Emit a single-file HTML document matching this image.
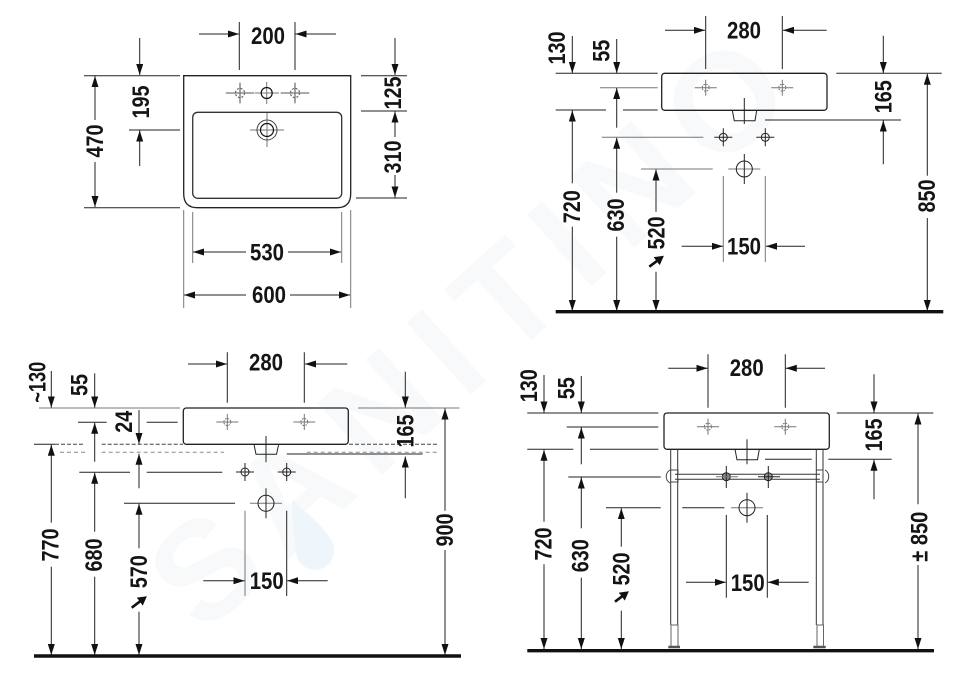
<!DOCTYPE html>
<html><head><meta charset="utf-8"><style>
html,body{margin:0;padding:0;background:#fff;width:960px;height:675px;overflow:hidden}
svg{display:block}
.l,.a,.g{fill:none;stroke:#222;stroke-width:1}
.g{stroke:#777}
.a{marker-end:url(#h)}
.t{font:bold 24px "Liberation Sans",sans-serif;fill:#151515;text-anchor:middle}
.f{fill:none;stroke:#111;stroke-width:3.4}
.s{fill:none;stroke:#111;stroke-width:2.6;marker-end:url(#sm)}
</style></head><body>
<svg width="960" height="675" viewBox="0 0 960 675" xmlns="http://www.w3.org/2000/svg">
<defs>
<marker id="h" markerUnits="userSpaceOnUse" markerWidth="12" markerHeight="8" refX="11" refY="3.5" orient="auto"><path d="M0 0L11 3.5L0 7z" fill="#111"/></marker>
<marker id="sm" markerUnits="userSpaceOnUse" markerWidth="12" markerHeight="11" refX="6" refY="5" orient="auto"><path d="M0 0L9 5L0 10z" fill="#111"/></marker>
<g id="bf"><path class="g" d="M-11 0H11M0 -8V8"/><circle r="3.5" fill="none" stroke="#666" stroke-width=".9" stroke-dasharray="1.6 1.2"/></g>
<g id="hole"><path class="l" d="M-9 0H9M0 -9V9"/><circle r="4" fill="none" stroke="#222"/></g>
<g id="big"><path class="g" d="M-16 0H16"/><path class="l" d="M0 -15V15"/><circle r="8" fill="none" stroke="#222"/></g>
</defs>

<!-- watermark -->
<text transform="translate(470 335) rotate(-42)" text-anchor="middle" y="45" font-family="Liberation Sans,sans-serif" font-weight="bold" font-size="140" textLength="800" lengthAdjust="spacing" fill="#f8f9fa">SANITINO</text>
<path d="M292 500Q335 535 334 550A19 19 0 0 1 296 552Q292 530 292 500z" fill="#eef6fb"/>

<!-- PANEL 1 -->
<path d="M183.7 75.7H350.7V193.7Q350.7 207.7 336.7 207.7H197.7Q183.7 207.7 183.7 193.7Z" fill="none" stroke="#222" stroke-width="1.3"/>
<rect x="192.7" y="112.3" width="149" height="86" rx="5" fill="none" stroke="#333" stroke-width="1.3"/>
<use href="#bf" transform="translate(240 93) scale(1.3)"/>
<use href="#bf" transform="translate(295 93) scale(1.3)"/>
<path class="g" d="M255 93H279M266.7 82V104"/><circle cx="266.7" cy="93" r="5.5" fill="none" stroke="#111" stroke-width="1.2"/>
<path class="g" d="M250 130H284M267 113V147"/><circle cx="267" cy="130" r="10" fill="none" stroke="#444"/><circle cx="267" cy="130" r="6.5" fill="none" stroke="#111" stroke-width="1.2"/>
<path class="l" d="M84 75.7H180M361 75.7H407M129 130H180M84 207.7H180M361 111H407M356 198H407"/>
<path class="l" d="M239.3 22V70M295 22V70"/>
<path class="a" d="M199 34H239"/><path class="a" d="M336 34H295.5"/>
<path class="a" d="M139.7 38V75"/><path class="a" d="M139.7 166V130.5"/>
<path class="a" d="M95 120V76"/><path class="a" d="M95 162V207"/>
<path class="a" d="M395 38V75"/><path class="a" d="M395 137V111.5"/><path class="a" d="M395 175V197.5"/>
<path class="g" d="M192.7 212V263M341.7 212V263M183.7 210V308M350.7 210V308"/>
<path class="a" d="M246 252H193"/><path class="a" d="M288 252H341"/>
<path class="a" d="M246 295H184"/><path class="a" d="M290 295H350"/>
<text class="t" x="268" y="44" textLength="34" lengthAdjust="spacingAndGlyphs">200</text>
<text class="t" x="267" y="260.5" textLength="34" lengthAdjust="spacingAndGlyphs">530</text>
<text class="t" x="269" y="303" textLength="34" lengthAdjust="spacingAndGlyphs">600</text>
<text class="t" transform="translate(141 102) rotate(-90)" y="8" textLength="33" lengthAdjust="spacingAndGlyphs">195</text>
<text class="t" transform="translate(95 141) rotate(-90)" y="8" textLength="33" lengthAdjust="spacingAndGlyphs">470</text>
<text class="t" transform="translate(393 93) rotate(-90)" y="8" textLength="33" lengthAdjust="spacingAndGlyphs">125</text>
<text class="t" transform="translate(393 157) rotate(-90)" y="8" textLength="33" lengthAdjust="spacingAndGlyphs">310</text>

<!-- PANEL 2 -->
<rect x="661.7" y="73.3" width="165.3" height="37" rx="3" fill="none" stroke="#222" stroke-width="1.3"/>
<path class="l" d="M732.3 110.3L734.3 120.7H755L756.7 110.3M744.3 98V124"/>
<use href="#bf" x="705.7" y="87.7"/><use href="#bf" x="782.3" y="87.7"/>
<use href="#hole" x="723.3" y="137.3"/><use href="#hole" x="765.3" y="137.3"/><use href="#big" x="744.3" y="169"/>
<path class="l" d="M705.7 16V69M782.3 16V69M555.7 73.3H657.7M836.3 73.3H941.7M765 120H901"/>
<path class="g" d="M600 87.7H657.7M601.7 137.3H703.3M641 169H712.7"/>
<path class="l" d="M555.7 110H606M623 110H657.7"/>
<path class="g" d="M723.3 176V262M765.3 176V262"/>
<path class="a" d="M665 30.3H705"/><path class="a" d="M826.7 30.3H783"/>
<path class="a" d="M681.7 246.3H723"/><path class="a" d="M805 246.3H766"/>
<path class="a" d="M572.3 36V73"/><path class="a" d="M616.7 39V73"/><path class="a" d="M883.3 35.7V73"/><path class="a" d="M883.3 164.3V120.5"/>
<path class="a" d="M616.7 127.7V88"/><path class="a" d="M616.7 192.7V137.8"/><path class="a" d="M616.7 236.7V311"/>
<path class="a" d="M572.3 183.3V110.5"/><path class="a" d="M572.3 226.7V311"/>
<path class="a" d="M656 211.7V169.5"/><path class="a" d="M656 271.7V311"/>
<path class="a" d="M927.3 175.7V73.8"/><path class="a" d="M927.3 218V311"/>
<path class="s" d="M649.3 266.7L661.5 257.6"/>
<path class="f" d="M555.7 311.7H943.3"/>
<text class="t" x="744" y="38.5" textLength="34" lengthAdjust="spacingAndGlyphs">280</text>
<text class="t" x="744" y="254.5" textLength="34" lengthAdjust="spacingAndGlyphs">150</text>
<text class="t" transform="translate(557 48) rotate(-90)" y="8" textLength="33" lengthAdjust="spacingAndGlyphs">130</text>
<text class="t" transform="translate(601.7 50.7) rotate(-90)" y="8" textLength="22" lengthAdjust="spacingAndGlyphs">55</text>
<text class="t" transform="translate(883.3 96.7) rotate(-90)" y="8" textLength="33" lengthAdjust="spacingAndGlyphs">165</text>
<text class="t" transform="translate(572 206.7) rotate(-90)" y="8" textLength="33" lengthAdjust="spacingAndGlyphs">720</text>
<text class="t" transform="translate(616 215) rotate(-90)" y="8" textLength="33" lengthAdjust="spacingAndGlyphs">630</text>
<text class="t" transform="translate(656.7 233) rotate(-90)" y="8" textLength="33" lengthAdjust="spacingAndGlyphs">520</text>
<text class="t" transform="translate(927 196) rotate(-90)" y="8" textLength="33" lengthAdjust="spacingAndGlyphs">850</text>

<!-- PANEL 3 -->
<rect x="183.3" y="408" width="165" height="36.3" rx="3" fill="none" stroke="#222" stroke-width="1.3"/>
<path class="l" d="M254 444.3L256 454.3H276.5L278.7 444.3M266 436V462.3"/>
<use href="#bf" x="227.3" y="422"/><use href="#bf" x="304.3" y="422"/>
<use href="#hole" x="245" y="472"/><use href="#hole" x="286.7" y="472"/><use href="#big" x="266" y="503.3"/>
<path class="g" d="M39 408H180M358 408H459.3"/>
<path class="l" d="M227.3 352.3V402.7M304.3 352.3V402.7M78 422.3H106.7M146.7 422.3H177.7M79.3 472.3H130M146.7 472.3H222.3M124 503.3H235M286.7 454H422.7"/>
<path class="l" d="M34 444.3H55"/>
<path d="M55 444.3H85M101.7 444.3H183M349 444.3H439" fill="none" stroke="#444" stroke-dasharray="4 2"/>
<path d="M60 452.3H86.7M101.7 452.3H224M306.7 452.3H436.7" fill="none" stroke="#888" stroke-dasharray="4 3"/>
<path class="g" d="M245 510.7V596"/><path class="l" d="M286.7 510.7V596"/>
<path class="a" d="M188 364H227"/><path class="a" d="M347.3 364H305"/>
<path class="a" d="M203.3 580.7H244.5"/><path class="a" d="M327.7 580.7H287.2"/>
<path class="a" d="M51.3 371V407.5"/><path class="a" d="M94.7 373.3V407.5"/><path class="a" d="M405.3 371.7V407.5"/><path class="a" d="M405.3 498.3V456.5"/>
<path class="a" d="M139 410V444"/><path class="a" d="M139 488.3V453.8"/>
<path class="a" d="M94.7 461.7V422.8"/><path class="a" d="M94.7 531.7V472.8"/><path class="a" d="M94.7 576.7V655"/>
<path class="a" d="M51.3 522.7V444.8"/><path class="a" d="M51.3 566.7V655"/>
<path class="a" d="M139 548.3V503.8"/><path class="a" d="M139 611.7V655"/>
<path class="a" d="M445 510.7V408.5"/><path class="a" d="M445 550V655"/>
<path class="s" d="M131.7 607.7L144.5 598"/>
<path class="f" d="M34 656H461"/>
<text class="t" x="266" y="370.5" textLength="34" lengthAdjust="spacingAndGlyphs">280</text>
<text class="t" x="266.7" y="589" textLength="34" lengthAdjust="spacingAndGlyphs">150</text>
<text class="t" transform="translate(37.3 382.3) rotate(-90)" y="8" textLength="41" lengthAdjust="spacingAndGlyphs">~130</text>
<text class="t" transform="translate(79.3 385) rotate(-90)" y="8" textLength="22" lengthAdjust="spacingAndGlyphs">55</text>
<text class="t" transform="translate(124 421.7) rotate(-90)" y="8" textLength="22" lengthAdjust="spacingAndGlyphs">24</text>
<text class="t" transform="translate(405.3 431) rotate(-90)" y="8" textLength="33" lengthAdjust="spacingAndGlyphs">165</text>
<text class="t" transform="translate(50.7 545) rotate(-90)" y="8" textLength="33" lengthAdjust="spacingAndGlyphs">770</text>
<text class="t" transform="translate(94 555) rotate(-90)" y="8" textLength="33" lengthAdjust="spacingAndGlyphs">680</text>
<text class="t" transform="translate(139 571.7) rotate(-90)" y="8" textLength="33" lengthAdjust="spacingAndGlyphs">570</text>
<text class="t" transform="translate(445 530) rotate(-90)" y="8" textLength="33" lengthAdjust="spacingAndGlyphs">900</text>

<!-- PANEL 4 -->
<rect x="664" y="413" width="165.3" height="36.3" rx="3" fill="none" stroke="#222" stroke-width="1.3"/>
<path class="l" d="M735 449.3L737 459.7H757.5L759.3 449.3M747 439.3V464.3"/>
<use href="#bf" x="708" y="426.7"/><use href="#bf" x="785.3" y="426.7"/>
<path d="M670.7 449.3V625M677.7 449.3V625M816.3 449.3V625M823 449.3V625" fill="none" stroke="#333"/>
<path d="M671 625H678V646.5H671zM817 625H823.5V646.5H817z" fill="#fff" stroke="#666"/>
<path d="M668.3 647H680M813.3 647H825.7" stroke="#555" stroke-width="2.4" fill="none"/>
<path d="M675 474.3H820M675 479.3H820" fill="none" stroke="#333"/>
<path d="M670 470A7.5 7.5 0 0 0 670 483M825 470A7.5 7.5 0 0 1 825 483" fill="none" stroke="#444"/>
<path d="M671 470H678V474M671 482H678V479M816 470H823V474M816 482H823V479" fill="none" stroke="#444"/>
<circle cx="726.3" cy="476.7" r="4" fill="#888" stroke="#222"/><path class="l" d="M726.3 466V488"/><path class="g" d="M716 476.7H738"/>
<circle cx="768.3" cy="476.7" r="4" fill="#999" stroke="#222"/><path class="l" d="M768.3 466V488M758 476.7H780"/>
<use href="#big" x="747" y="507.7"/>
<path class="l" d="M708 354.3V407.7M785.3 354.3V407.7M527.3 413H658.3M836.7 413H933.3M566.7 427H658.3M527.3 449.3H573.3M590 449.3H658.3M568.3 477H660.7M606 507.7H660.7M682.3 507.7H724.3M765 459.3H811.7M828.3 459.3H891.7"/>
<path class="l" d="M726.3 515V597.7M767.3 515V597.7"/>
<path class="a" d="M668.3 368.3H707.5"/><path class="a" d="M825 368.3H785.8"/>
<path class="a" d="M686 582.3H725.8"/><path class="a" d="M808.7 582.3H767.8"/>
<path class="a" d="M544 375V412.5"/><path class="a" d="M581.3 376V412.5"/><path class="a" d="M874 374.3V412.5"/><path class="a" d="M874 499.3V459.8"/>
<path class="a" d="M581.3 464.3V427.5"/><path class="a" d="M581.3 528.3V477.5"/><path class="a" d="M581.3 577.7V649"/>
<path class="a" d="M544 521.7V449.8"/><path class="a" d="M544 564.3V649"/>
<path class="a" d="M621.3 546.7V508.2"/><path class="a" d="M621.3 610.7V649"/>
<path class="a" d="M918 504.3V413.5"/><path class="a" d="M918 565V649"/>
<path class="s" d="M615 601.7L626.5 593"/>
<path class="f" d="M527.3 650.7H934"/>
<text class="t" x="746.7" y="376" textLength="34" lengthAdjust="spacingAndGlyphs">280</text>
<text class="t" x="747.7" y="591" textLength="34" lengthAdjust="spacingAndGlyphs">150</text>
<text class="t" transform="translate(529 385.7) rotate(-90)" y="8" textLength="33" lengthAdjust="spacingAndGlyphs">130</text>
<text class="t" transform="translate(566.7 388.3) rotate(-90)" y="8" textLength="22" lengthAdjust="spacingAndGlyphs">55</text>
<text class="t" transform="translate(874 435) rotate(-90)" y="8" textLength="33" lengthAdjust="spacingAndGlyphs">165</text>
<text class="t" transform="translate(543.3 544) rotate(-90)" y="8" textLength="33" lengthAdjust="spacingAndGlyphs">720</text>
<text class="t" transform="translate(580.3 555.7) rotate(-90)" y="8" textLength="33" lengthAdjust="spacingAndGlyphs">630</text>
<text class="t" transform="translate(621.7 569) rotate(-90)" y="8" textLength="33" lengthAdjust="spacingAndGlyphs">520</text>
<text class="t" transform="translate(919.3 536.7) rotate(-90)" y="8" textLength="50" lengthAdjust="spacingAndGlyphs">± 850</text>
</svg>
</body></html>
